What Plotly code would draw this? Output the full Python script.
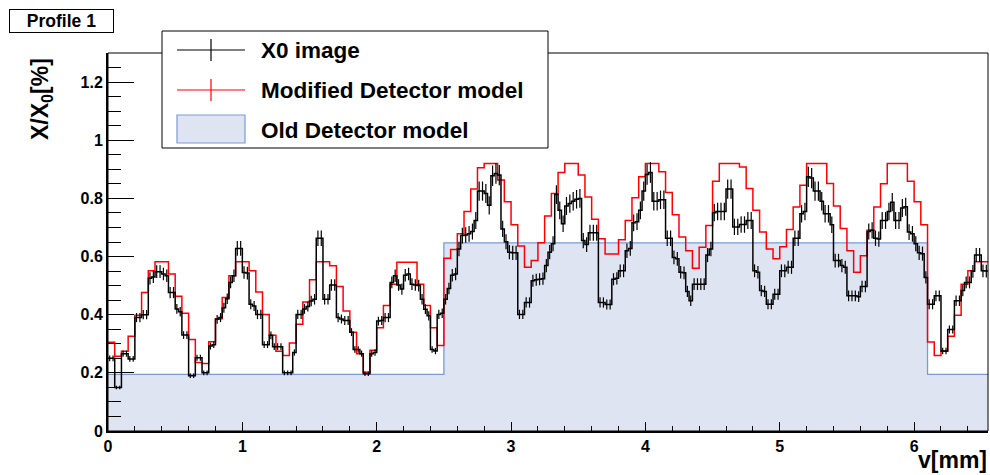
import plotly.graph_objects as go

# ---------------- data ----------------
X_RANGE = [0.0, 6.55]
Y_RANGE = [0.0, 1.3]

X0_BIN = 0.025          # bin width of the X0 image profile [mm]
MOD_BIN = 0.05          # bin width of the modified detector model [mm]

X0_VALUES = [
    0.25, 0.25, 0.15, 0.15, 0.266, 0.266, 0.248, 0.248, 0.39, 0.39,
    0.40, 0.40, 0.525, 0.53, 0.548, 0.548, 0.54, 0.534, 0.476, 0.476,
    0.42, 0.41, 0.33, 0.33, 0.19, 0.19, 0.252, 0.252, 0.20, 0.20,
    0.292, 0.297, 0.384, 0.39, 0.424, 0.455, 0.511, 0.534, 0.628, 0.628,
    0.545, 0.543, 0.436, 0.43, 0.401, 0.401, 0.297, 0.297, 0.329, 0.29,
    0.29, 0.29, 0.20, 0.20, 0.20, 0.27, 0.401, 0.401, 0.42, 0.428,
    0.447, 0.453, 0.663, 0.663, 0.453, 0.453, 0.502, 0.502, 0.39, 0.385,
    0.38, 0.38, 0.34, 0.28, 0.28, 0.266, 0.197, 0.197, 0.266, 0.27,
    0.378, 0.38, 0.39, 0.39, 0.511, 0.534, 0.502, 0.488, 0.536, 0.54,
    0.505, 0.502, 0.50, 0.453, 0.419, 0.396, 0.28, 0.275, 0.401, 0.405,
    0.453, 0.49, 0.536, 0.54, 0.626, 0.672, 0.674, 0.678, 0.686, 0.724,
    0.825, 0.825, 0.817, 0.776, 0.878, 0.886, 0.88, 0.695, 0.651, 0.615,
    0.613, 0.613, 0.401, 0.401, 0.442, 0.442, 0.517, 0.52, 0.522, 0.524,
    0.569, 0.615, 0.644, 0.813, 0.759, 0.713, 0.774, 0.782, 0.79, 0.797,
    0.80, 0.655, 0.641, 0.682, 0.682, 0.682, 0.442, 0.442, 0.435, 0.435,
    0.522, 0.525, 0.551, 0.551, 0.62, 0.628, 0.716, 0.72, 0.759, 0.825,
    0.882, 0.889, 0.79, 0.79, 0.795, 0.795, 0.663, 0.663, 0.597, 0.592,
    0.546, 0.544, 0.48, 0.448, 0.505, 0.505, 0.505, 0.505, 0.605, 0.626,
    0.751, 0.755, 0.755, 0.755, 0.832, 0.832, 0.702, 0.702, 0.71, 0.71,
    0.724, 0.724, 0.551, 0.546, 0.483, 0.48, 0.436, 0.436, 0.47, 0.47,
    0.551, 0.551, 0.563, 0.563, 0.663, 0.663, 0.747, 0.755, 0.874, 0.87,
    0.825, 0.825, 0.79, 0.747, 0.747, 0.709, 0.586, 0.586, 0.569, 0.563,
    0.465, 0.465, 0.465, 0.462, 0.497, 0.497, 0.686, 0.69, 0.663, 0.66,
    0.724, 0.724, 0.755, 0.787, 0.724, 0.724, 0.767, 0.771, 0.684, 0.678,
    0.644, 0.613, 0.61, 0.528, 0.436, 0.436, 0.465, 0.465, 0.275, 0.275,
    0.349, 0.349, 0.448, 0.448, 0.483, 0.511, 0.511, 0.549, 0.605, 0.605,
    0.551, 0.55,
]
X0_REL_ERR_PCT = 4.0

MOD_VALUES = [
    0.305, 0.257, 0.274, 0.326, 0.398, 0.476, 0.551, 0.582, 0.582, 0.54,
    0.463, 0.405, 0.315, 0.236, 0.232, 0.307, 0.386, 0.459, 0.534, 0.582,
    0.582, 0.551, 0.478, 0.401, 0.329, 0.274, 0.26, 0.303, 0.367, 0.444,
    0.52, 0.582, 0.582, 0.568, 0.497, 0.413, 0.34, 0.266, 0.202, 0.278,
    0.355, 0.432, 0.505, 0.58, 0.58, 0.58, 0.505, 0.432, 0.355, 0.294,
    0.594, 0.624, 0.678, 0.755, 0.832, 0.905, 0.92, 0.92, 0.863, 0.788,
    0.709, 0.636, 0.563, 0.586, 0.647, 0.739, 0.817, 0.889, 0.92, 0.92,
    0.88, 0.805, 0.728, 0.661, 0.609, 0.609, 0.658, 0.724, 0.802, 0.874,
    0.92, 0.92, 0.892, 0.82, 0.744, 0.667, 0.62, 0.56, 0.632, 0.707,
    0.859, 0.92, 0.92, 0.92, 0.908, 0.834, 0.759, 0.684, 0.626, 0.592,
    0.634, 0.693, 0.77, 0.845, 0.92, 0.92, 0.92, 0.851, 0.774, 0.696,
    0.62, 0.546, 0.603, 0.69, 0.77, 0.85, 0.92, 0.92, 0.92, 0.859,
    0.788, 0.709, 0.306, 0.26, 0.274, 0.326, 0.398, 0.505, 0.551, 0.582,
    0.582,
]

OLD_EDGES = [0.0, 2.5, 6.1, 6.55]
OLD_VALUES = [0.195, 0.647, 0.195]

X_TICKS = [0, 1, 2, 3, 4, 5, 6]
Y_TICKS = [0, 0.2, 0.4, 0.6, 0.8, 1.0, 1.2]
Y_TICK_TEXT = ["0", "0.2", "0.4", "0.6", "0.8", "1", "1.2"]

LEGEND_LABELS = ["X0 image", "Modified Detector model", "Old Detector model"]
TITLE_TEXT = "Profile 1"
X_TITLE = "v[mm]"
Y_TITLE = "X/X<sub>0</sub>[%]"

# ---------------- styling / geometry ----------------
W, H = 990, 475
PL, PR, PT, PB = 108, 988, 53, 431
FONT = "Liberation Sans, Arial, Helvetica, sans-serif"
BLUE_FILL = "rgb(222,228,242)"
BLUE_LINE = "rgb(122,155,216)"
RED = "rgb(255,0,0)"


def px(x):
    return (x - PL) / (PR - PL)


def py(y):
    return (PB - y) / (PB - PT)


def step(edges, vals):
    return list(edges), list(vals) + [vals[-1]]


x0_edges = [i * X0_BIN for i in range(len(X0_VALUES) + 1)]
x0_centers = [(i + 0.5) * X0_BIN for i in range(len(X0_VALUES))]
mod_edges = [i * MOD_BIN for i in range(len(MOD_VALUES) + 1)]

fig = go.Figure()

ox, oy = step(OLD_EDGES, OLD_VALUES)
fig.add_trace(go.Scatter(x=ox, y=oy, mode="lines", line=dict(color=BLUE_LINE, width=1.3, shape="hv"),
                         fill="tozeroy", fillcolor=BLUE_FILL, showlegend=False, hoverinfo="skip"))

mx, my = step(mod_edges, MOD_VALUES)
fig.add_trace(go.Scatter(x=mx, y=my, mode="lines", line=dict(color=RED, width=1.5, shape="hv"),
                         showlegend=False))

bx, by = step(x0_edges, X0_VALUES)
fig.add_trace(go.Scatter(x=bx, y=by, mode="lines", line=dict(color="black", width=1.5, shape="hv"),
                         showlegend=False))
fig.add_trace(go.Scatter(x=x0_centers, y=X0_VALUES, mode="markers",
                         marker=dict(size=1, color="black"),
                         error_y=dict(type="percent", value=X0_REL_ERR_PCT, color="black",
                                      thickness=1.2, width=0),
                         showlegend=False))

axis_font = dict(family=FONT, size=16, color="black", weight="bold")

fig.update_xaxes(range=X_RANGE, tickvals=X_TICKS, ticks="inside", ticklen=9, tickwidth=1,
                 tickcolor="black", minor=dict(dtick=0.2, tick0=0, ticks="inside", ticklen=5,
                                               tickcolor="black", tickwidth=1),
                 showline=True, linecolor="black", linewidth=2, showgrid=False, zeroline=False,
                 tickfont=axis_font, automargin=False)
fig.update_yaxes(range=Y_RANGE, tickvals=Y_TICKS, ticktext=Y_TICK_TEXT, ticks="inside", ticklen=26,
                 tickwidth=1, tickcolor="black",
                 minor=dict(dtick=0.05, tick0=0, ticks="inside", ticklen=13, tickcolor="black",
                            tickwidth=1),
                 showline=True, linecolor="black", linewidth=2, showgrid=False, zeroline=False,
                 tickfont=axis_font, automargin=False)

shapes = [
    # frame
    dict(type="rect", xref="paper", yref="paper", x0=0, x1=1, y0=0, y1=1,
         line=dict(color="black", width=1), layer="above"),
    # legend box
    dict(type="rect", xref="paper", yref="paper", x0=px(162), x1=px(548), y0=py(148), y1=py(31),
         line=dict(color="black", width=1), fillcolor="white", layer="above"),
]
rows_y = [50, 90, 130]
for ry, col in zip(rows_y[:2], ["black", RED]):
    shapes.append(dict(type="line", xref="paper", yref="paper", x0=px(177), x1=px(245),
                       y0=py(ry), y1=py(ry), line=dict(color=col, width=1.2), layer="above"))
    shapes.append(dict(type="line", xref="paper", yref="paper", x0=px(211), x1=px(211),
                       y0=py(ry - 11), y1=py(ry + 11), line=dict(color=col, width=1.2), layer="above"))
shapes.append(dict(type="rect", xref="paper", yref="paper", x0=px(177), x1=px(245),
                   y0=py(143), y1=py(115), line=dict(color=BLUE_LINE, width=1.2),
                   fillcolor=BLUE_FILL, layer="above"))

annotations = []
for ry, lab in zip([51, 90, 130], LEGEND_LABELS):
    annotations.append(dict(xref="paper", yref="paper", x=px(259), y=py(ry), xanchor="left",
                            yanchor="middle", text=lab, showarrow=False,
                            font=dict(family=FONT, size=22.5, color="black", weight="bold")))
annotations.append(dict(xref="paper", yref="paper", x=px(61.5), y=py(21), xanchor="center",
                        yanchor="middle", text=TITLE_TEXT, showarrow=False, bgcolor="white",
                        bordercolor="black", borderwidth=1, borderpad=1, width=101, height=20,
                        font=dict(family=FONT, size=17.5, color="black", weight="bold")))
annotations.append(dict(xref="paper", yref="paper", x=px(41), y=py(99), xanchor="center",
                        yanchor="middle", text=Y_TITLE, textangle=-90, showarrow=False,
                        font=dict(family=FONT, size=23, color="black", weight="bold")))
annotations.append(dict(xref="paper", yref="paper", x=px(989), y=py(460), xanchor="right",
                        yanchor="middle", text=X_TITLE, showarrow=False,
                        font=dict(family=FONT, size=23, color="black", weight="bold")))

fig.update_layout(width=W, height=H, margin=dict(l=PL, r=W - PR, t=PT, b=H - PB, autoexpand=False),
                  paper_bgcolor="white", plot_bgcolor="white", showlegend=False,
                  shapes=shapes, annotations=annotations)

fig.write_html("out.html", config={"displayModeBar": False},
               post_script="document.body.style.margin='0';document.body.style.overflow='hidden';")
